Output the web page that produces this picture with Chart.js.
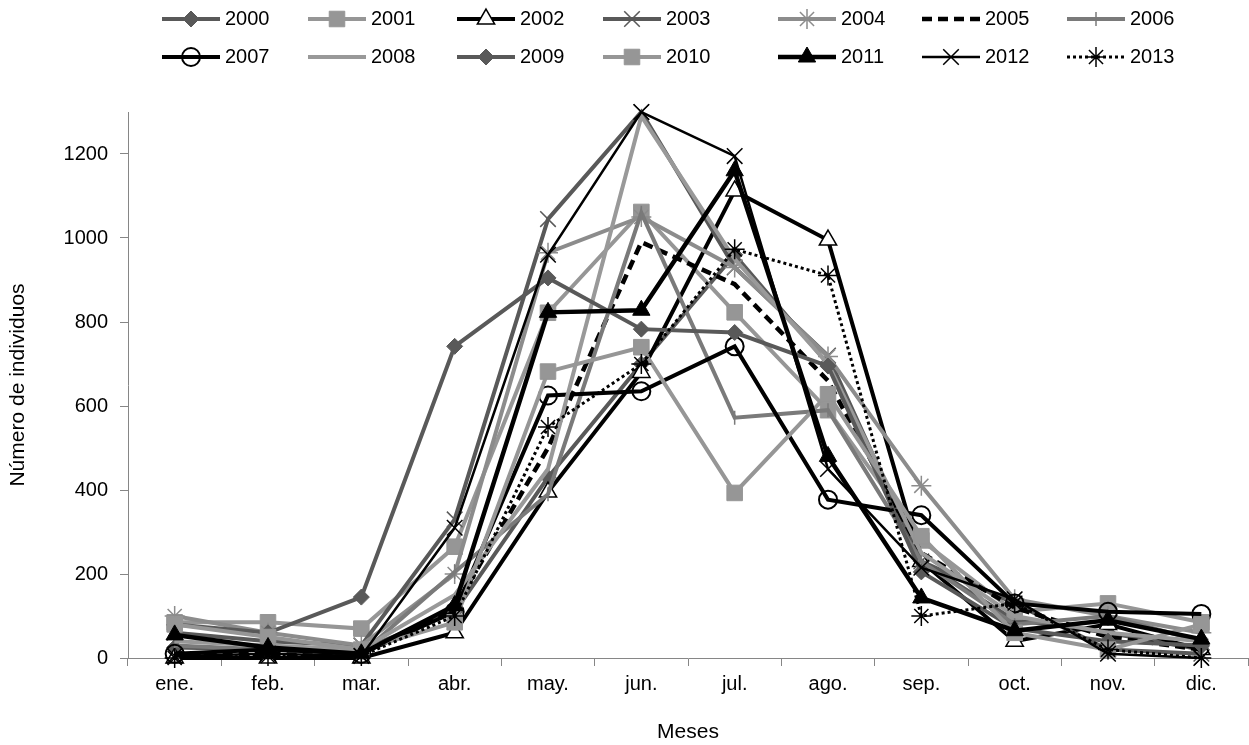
<!DOCTYPE html>
<html>
<head>
<meta charset="utf-8">
<script src="https://cdn.jsdelivr.net/npm/chart.js@4.4.1/dist/chart.umd.min.js"></script>
<style>
  html, body { margin: 0; padding: 0; background: #fff; overflow: hidden; }
  #wrap { width: 1249px; height: 745px; position: relative; }
  canvas { display: block; }
</style>
</head>
<body>
<div id="wrap"><canvas id="chart"></canvas></div>
<script>
// meses y años
const months = ['ene.', 'feb.', 'mar.', 'abr.', 'may.', 'jun.', 'jul.', 'ago.', 'sep.', 'oct.', 'nov.', 'dic.'];
const years = ['2000', '2001', '2002', '2003', '2004', '2005', '2006', '2007', '2008', '2009', '2010', '2011', '2012', '2013'];

// número de individuos por mes
const d2000 = [25, 20, 20, 110, 430, 700, 960, 700, 230, 90, 60, 20];
const d2001 = [85, 85, 70, 265, 822, 1062, 823, 590, 280, 110, 130, 85];
const d2002 = [0, 0, 0, 60, 395, 680, 1112, 995, 230, 40, 80, 20];
const d2003 = [60, 40, 30, 330, 1045, 1300, 930, 720, 230, 130, 20, 10];
const d2004 = [100, 60, 30, 200, 965, 1050, 930, 718, 410, 140, 100, 60];
const d2005 = [10, 10, 10, 120, 500, 990, 890, 660, 250, 120, 50, 20];
const d2006 = [30, 20, 10, 205, 390, 1060, 572, 590, 230, 80, 100, 40];
const d2007 = [10, 20, 10, 110, 625, 635, 742, 377, 340, 130, 110, 105];
const d2008 = [40, 30, 20, 150, 450, 1290, 950, 700, 250, 100, 60, 40];
const d2009 = [80, 60, 145, 742, 905, 783, 775, 695, 205, 70, 40, 30];
const d2010 = [80, 50, 20, 85, 682, 740, 393, 628, 290, 60, 20, 80];
const d2011 = [55, 25, 10, 125, 823, 828, 1160, 480, 143, 65, 90, 45];
const d2012 = [5, 10, 5, 310, 960, 1300, 1195, 450, 215, 140, 10, 0];
const d2013 = [0, 5, 5, 100, 550, 700, 973, 911, 100, 130, 20, 0];
const values = [d2000, d2001, d2002, d2003, d2004, d2005, d2006, d2007, d2008, d2009, d2010, d2011, d2012, d2013];

// estilos de cada serie (escala de grises como en Excel)
const styles = [
  { c: '#595959', w: 4, ps: 'rectRot', r: 8, fill: '#595959' },
  { c: '#969696', w: 4, ps: 'rect', r: 11, fill: '#969696' },
  { c: '#000000', w: 4, ps: 'triangle', r: 10, fill: '#ffffff', pbw: 1.5 },
  { c: '#595959', w: 4, ps: 'crossRot', r: 11, pbw: 1.5 },
  { c: '#8c8c8c', w: 4, ps: 'star', r: 10, pbw: 1.5 },
  { c: '#000000', w: 4.5, dash: [10, 6], r: 0 },
  { c: '#7a7a7a', w: 4, ps: 'line', rot: 90, r: 7, pbw: 1.5 },
  { c: '#000000', w: 4, ps: 'circle', r: 9, fill: 'rgba(0,0,0,0)', pbw: 2 },
  { c: '#999999', w: 4, r: 0 },
  { c: '#595959', w: 4, ps: 'rectRot', r: 8, fill: '#595959' },
  { c: '#969696', w: 4, ps: 'rect', r: 11, fill: '#969696' },
  { c: '#000000', w: 4.5, ps: 'triangle', r: 10, fill: '#000000' },
  { c: '#000000', w: 2.5, ps: 'crossRot', r: 11, pbw: 1.5 },
  { c: '#000000', w: 3, dash: [3, 3], ps: 'star', r: 10, pbw: 1.5 }
];

// leyenda en dos filas de 7
const legendCols = [162, 308, 457, 603, 778, 922, 1067];
const legendRows = [19, 57];

const FONT = '"Liberation Sans", Arial, sans-serif';
const axisGray = '#868686';

const datasets = years.map((y, i) => {
  const s = styles[i];
  return {
    label: y,
    data: values[i],
    borderColor: s.c,
    borderWidth: s.w,
    borderDash: s.dash || [],
    pointStyle: s.ps || 'circle',
    pointRadius: s.r,
    pointHoverRadius: s.r,
    pointRotation: s.rot || 0,
    pointBackgroundColor: s.fill || s.c,
    pointBorderColor: s.c,
    pointBorderWidth: s.pbw || 1,
    tension: 0,
    fill: false,
    clip: false,
    order: -i
  };
});

const legendLines = {
  id: 'legendLines',
  afterDraw(chart) {
    const ctx = chart.ctx;
    chart.data.datasets.forEach((ds, i) => {
      const x0 = legendCols[i % 7];
      const y = legendRows[Math.floor(i / 7)];
      ctx.save();
      ctx.strokeStyle = ds.borderColor;
      ctx.lineWidth = ds.borderWidth;
      ctx.setLineDash(ds.borderDash);
      ctx.beginPath();
      ctx.moveTo(x0, y);
      ctx.lineTo(x0 + 58, y);
      ctx.stroke();
      ctx.setLineDash([]);
      if (ds.pointRadius > 0 && Chart.helpers && Chart.helpers.drawPoint) {
        ctx.fillStyle = ds.pointBackgroundColor;
        ctx.strokeStyle = ds.pointBorderColor;
        ctx.lineWidth = ds.pointBorderWidth;
        Chart.helpers.drawPoint(ctx, {
          pointStyle: ds.pointStyle,
          radius: ds.pointRadius,
          rotation: ds.pointRotation,
          borderWidth: ds.pointBorderWidth
        }, x0 + 29, y);
      }
      ctx.fillStyle = '#000';
      ctx.font = '20px ' + FONT;
      ctx.textBaseline = 'middle';
      ctx.textAlign = 'left';
      ctx.fillText(ds.label, x0 + 63, y);
      ctx.restore();
    });
  }
};

new Chart(document.getElementById('chart'), {
  type: 'line',
  data: { labels: months, datasets },
  options: {
    responsive: true,
    maintainAspectRatio: false,
    animation: false,
    layout: { autoPadding: false, padding: { top: 112, left: 0, right: 1, bottom: 0 } },
    plugins: {
      legend: { display: false },
      tooltip: { enabled: false }
    },
    scales: {
      x: {
        offset: true,
        grid: { offset: true, drawOnChartArea: false, tickLength: 8, color: axisGray },
        border: { color: axisGray, width: 1 },
        ticks: { color: '#000', font: { family: FONT, size: 20 }, padding: 6, maxRotation: 0, autoSkip: false },
        title: { display: true, text: 'Meses', color: '#000', font: { family: FONT, size: 21 }, padding: { top: 0, bottom: 0 } },
        afterFit: s => {
          s.height = 87;
          s.paddingLeft = 0;
          s.paddingRight = 0;
        }
      },
      y: {
        min: 0,
        max: 1300,
        grid: { drawOnChartArea: false, tickLength: 8, color: axisGray },
        border: { color: axisGray, width: 1 },
        ticks: {
          stepSize: 200,
          color: '#000',
          font: { family: FONT, size: 20 },
          padding: 12,
          callback: v => String(v)
        },
        afterBuildTicks: s => { s.ticks = s.ticks.filter(t => t.value % 200 === 0); },
        title: { display: true, text: 'Número de individuos', color: '#000', font: { family: FONT, size: 21 }, padding: { top: 6, bottom: 0 } },
        afterFit: s => { s.width = 128; }
      }
    }
  },
  plugins: [legendLines]
});
</script>
</body>
</html>
